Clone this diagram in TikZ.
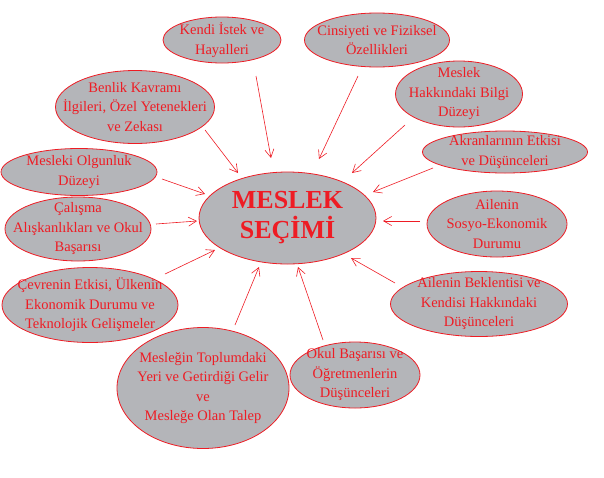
\documentclass[tikz,border=0pt]{standalone}
\usepackage{fontspec}
\setmainfont{Liberation Serif}
\usetikzlibrary{arrows.meta, shapes.geometric}
\definecolor{ovalred}{HTML}{EE1C24}
\definecolor{ovalgray}{HTML}{B4B5B9}

\begin{document}
\begin{tikzpicture}[x=1pt, y=-1pt,
      every node/.style={font=\fontsize{14.5}{19.5}\selectfont, align=center, text=ovalred},
      oval/.style={ellipse, draw=ovalred, line width=0.8pt, fill=ovalgray, inner sep=-30pt},
      arr/.style={draw=ovalred, line width=0.6pt, -{Straight Barb[length=8pt, width=9pt]}}]
    \useasboundingbox (0,0) rectangle (604,477);
    \node[oval, minimum width=177, minimum height=92, font=\fontsize{26}{30}\selectfont\bfseries] (secim) at (287.5,218) {MESLEK\\SEÇİMİ};
    \node[oval, minimum width=118, minimum height=46] (kendi) at (222,40) {Kendi İstek ve\\Hayalleri};
    \node[oval, minimum width=145, minimum height=54] (cinsiyet) at (377,40) {Cinsiyeti ve Fiziksel\\Özellikleri};
    \node[oval, minimum width=127, minimum height=66] (bilgi) at (459,94) {Meslek\\Hakkındaki Bilgi\\Düzeyi};
    \node[oval, minimum width=165, minimum height=42] (akran) at (505,152) {Akranlarının Etkisi\\ve Düşünceleri};
    \node[oval, minimum width=140, minimum height=66] (sosyo) at (497,224) {Ailenin\\Sosyo-Ekonomik\\Durumu};
    \node[oval, minimum width=177, minimum height=65] (beklenti) at (479,304) {Ailenin Beklentisi ve\\Kendisi Hakkındaki\\Düşünceleri};
    \node[oval, minimum width=130, minimum height=66] (okul) at (355,375) {Okul Başarısı ve\\Öğretmenlerin\\Düşünceleri};
    \node[oval, minimum width=172, minimum height=121] (toplum) at (203,388) {Mesleğin Toplumdaki\\Yeri ve Getirdiği Gelir\\ve\\Mesleğe Olan Talep};
    \node[oval, minimum width=176, minimum height=75] (cevre) at (90,305) {Çevrenin Etkisi, Ülkenin\\Ekonomik Durumu ve\\Teknolojik Gelişmeler};
    \node[oval, minimum width=146, minimum height=64] (calisma) at (78,229) {Çalışma\\Alışkanlıkları ve Okul\\Başarısı};
    \node[oval, minimum width=156, minimum height=47] (olgunluk) at (79,172) {Mesleki Olgunluk\\Düzeyi};
    \node[oval, minimum width=159, minimum height=73] (benlik) at (135,107) {Benlik Kavramı\\İlgileri, Özel Yetenekleri\\ve Zekası};
    % arrow ends
    \coordinate (kendi-s) at (256,76);      \coordinate (kendi-e) at (271,158);
    \coordinate (benlik-s) at (205,130);    \coordinate (benlik-e) at (238,173);
    \coordinate (cinsiyet-s) at (358,76);   \coordinate (cinsiyet-e) at (319,159);
    \coordinate (bilgi-s) at (405,125);     \coordinate (bilgi-e) at (352,173);
    \coordinate (akran-s) at (433,168);     \coordinate (akran-e) at (373,192);
    \coordinate (sosyo-s) at (420,221);     \coordinate (sosyo-e) at (383,221);
    \coordinate (beklenti-s) at (395,283);  \coordinate (beklenti-e) at (351,258);
    \coordinate (okul-s) at (323,340);      \coordinate (okul-e) at (298,267);
    \coordinate (toplum-s) at (235,325);    \coordinate (toplum-e) at (259,267);
    \coordinate (cevre-s) at (165,274);     \coordinate (cevre-e) at (215,250);
    \coordinate (calisma-s) at (156,224);   \coordinate (calisma-e) at (197,221);
    \coordinate (olgunluk-s) at (162,179);  \coordinate (olgunluk-e) at (205,194);
    \foreach \n in {kendi, benlik, cinsiyet, bilgi, akran, sosyo, beklenti, okul, toplum, cevre, calisma, olgunluk}
      \draw[arr] (\n-s) -- (\n-e);
  \end{tikzpicture}
\end{document}
